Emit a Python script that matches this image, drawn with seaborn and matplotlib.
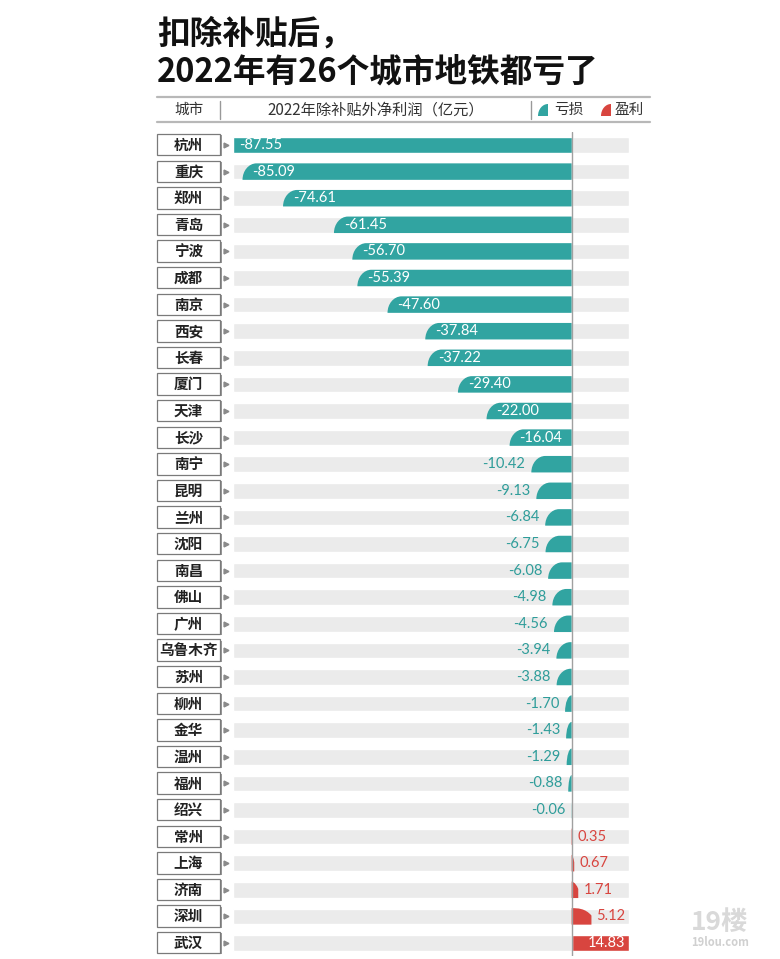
import numpy as np
import pandas as pd
import matplotlib
matplotlib.use("Agg")
import matplotlib.pyplot as plt
import seaborn as sns
from matplotlib.path import Path
from matplotlib.patches import PathPatch, Rectangle
from matplotlib.lines import Line2D
from matplotlib.transforms import blended_transform_factory

# Data

cities = [
    "杭州", "重庆", "郑州", "青岛", "宁波", "成都", "南京", "西安", "长春",
    "厦门", "天津", "长沙", "南宁", "昆明", "兰州", "沈阳", "南昌", "佛山",
    "广州", "乌鲁木齐", "苏州", "柳州", "金华", "温州", "福州", "绍兴",
    "常州", "上海", "济南", "深圳", "武汉",
]
profits = [
    -87.55, -85.09, -74.61, -61.45, -56.70, -55.39, -47.60, -37.84, -37.22,
    -29.40, -22.00, -16.04, -10.42, -9.13, -6.84, -6.75, -6.08, -4.98,
    -4.56, -3.94, -3.88, -1.70, -1.43, -1.29, -0.88, -0.06,
    0.35, 0.67, 1.71, 5.12, 14.83,
]
title_lines = ["扣除补贴后，", "2022年有26个城市地铁都亏了"]
header_city = "城市"
header_value = "2022年除补贴外净利润（亿元）"
legend_labels = ["亏损", "盈利"]

TEAL = "#31a4a1"
TEAL_TEXT = "#2f9d9a"
RED = "#d8453f"
BG = "#ebebeb"

sns.set_theme(style="white")
plt.rcParams["font.family"] = ["Noto Sans CJK SC", "DejaVu Sans"]
NUM_FONT = ["Lato", "DejaVu Sans"]

W, H = 780, 959
fig = plt.figure(figsize=(W / 100, H / 100), dpi=100)


def fx(px):
    return px / W


def fy(py):
    return 1 - py / H


n = len(cities)
row = (943 - 145) / (n - 1)
top = 145 - row / 2
bottom = 943 + row / 2
ax = fig.add_axes([fx(233), fy(bottom), fx(629) - fx(233), (bottom - top) / H])

df = pd.DataFrame({"city": cities, "profit": profits})
df["kind"] = np.where(df["profit"] < 0, legend_labels[0], legend_labels[1])
xmin, xmax = df["profit"].min(), df["profit"].max()

# Background bars

sns.barplot(x=[xmin] * n, y=cities, color=BG, width=0.58,
            saturation=1, orient="h", ax=ax)
sns.barplot(x=[xmax] * n, y=cities, color=BG, width=0.58,
            saturation=1, orient="h", ax=ax)

# Value bars

n_before = len(ax.patches)
sns.barplot(
    data=df, x="profit", y="city", hue="kind",
    palette={legend_labels[0]: TEAL, legend_labels[1]: RED},
    width=0.62, saturation=1, legend=False, orient="h", ax=ax
)
bars = list(ax.patches[n_before:])

px_per_x = (629 - 233) / (xmax - xmin)
rx_max = 14 / px_per_x
k = 0.5523

for p in bars:
    x0, x1 = sorted([p.get_x(), p.get_x() + p.get_width()])
    y0, y1 = sorted([p.get_y(), p.get_y() + p.get_height()])
    if x1 - x0 <= 0:
        continue
    color = p.get_facecolor()
    h = y1 - y0
    rx = min(rx_max, x1 - x0)
    if x0 <= xmin + 1e-9 or x1 >= xmax - 1e-9:
        continue
    if x0 < 0:
        verts = [(x1, y0), (x0 + rx, y0), (x0 + rx - k * rx, y0),
                 (x0, y1 - k * h), (x0, y1), (x1, y1), (x1, y0)]
    else:
        verts = [(x0, y1), (x0, y0), (x1 - rx, y0), (x1 - rx + k * rx, y0),
                 (x1, y1 - k * h), (x1, y1), (x0, y1)]
    codes = [Path.MOVETO, Path.LINETO, Path.CURVE4, Path.CURVE4,
             Path.CURVE4, Path.LINETO, Path.CLOSEPOLY]
    p.remove()
    ax.add_patch(PathPatch(Path(verts, codes), facecolor=color,
                           edgecolor="none", zorder=2))

# Value labels

for i, v in enumerate(profits):
    inside = abs(v) * px_per_x > 50
    square = v in (xmin, xmax)
    pad_in = 6 if square else 10
    if v < 0:
        off, ha = (pad_in, "left") if inside else (-6, "right")
        col = "white" if inside else TEAL_TEXT
    else:
        off, ha = (-4, "right") if inside else (5, "left")
        col = "white" if inside else RED
    ax.annotate(f"{v:.2f}", (v, i), xytext=(off, 0),
                textcoords="offset pixels", ha=ha, va="center",
                fontsize=10.5, color=col, family=NUM_FONT, zorder=4)

ax.axvline(0, color="#a0a0a0", lw=1, zorder=3)

ax.set_xlim(xmin, xmax)
ax.set_ylim(n - 0.5, -0.5)
ax.set_xticks([])
ax.set_yticks([])
ax.set_xlabel("")
ax.set_ylabel("")
sns.despine(ax=ax, left=True, bottom=True)

# City label boxes

trans = blended_transform_factory(fig.transFigure, ax.transData)
for i, city in enumerate(cities):
    fig.add_artist(Rectangle((fx(158.5), i - 0.37), fx(220) - fx(157), 0.8,
                             transform=trans, facecolor="#9a9a9a",
                             edgecolor="none", zorder=1))
    fig.add_artist(Rectangle((fx(157), i - 0.41), fx(220) - fx(157), 0.8,
                             transform=trans, facecolor="white",
                             edgecolor="#7a7a7a", lw=0.9, zorder=2))
    fig.text(fx(188.5), i, city, transform=trans, ha="center", va="center",
             fontsize=10.5, fontweight="bold", color="#222222", zorder=3)
    fig.add_artist(Line2D([fx(226)], [i], transform=trans, marker=">",
                          ms=3.5, color="#8a8a8a", ls="none"))

# Title

fig.text(fx(157), fy(34), title_lines[0], fontsize=23.5, fontweight="heavy",
         color="#111111", va="center", ha="left")
fig.text(fx(157), fy(72), title_lines[1], fontsize=23.5, fontweight="heavy",
         color="#111111", va="center", ha="left")

# Header

for yy in (97, 122):
    fig.add_artist(Line2D([fx(157), fx(650)], [fy(yy), fy(yy)],
                          color="#b8b8b8", lw=1.6))
for xx in (220, 531):
    fig.add_artist(Line2D([fx(xx), fx(xx)], [fy(101), fy(119)],
                          color="#999999", lw=1))
fig.text(fx(189), fy(110), header_city, ha="center", va="center",
         fontsize=10.5, color="#333333")
fig.text(fx(376), fy(110), header_value, ha="center", va="center",
         fontsize=11, color="#333333")

for x_icon, col, label, x_lab in ((538, TEAL, legend_labels[0], 569),
                                   (601, RED, legend_labels[1], 629)):
    x0, x1, y0, y1 = fx(x_icon), fx(x_icon + 10), fy(116), fy(104)
    rx, ry = x1 - x0, y1 - y0
    verts = [(x1, y0), (x1, y1), (x0 + rx * (1 - k), y1),
             (x0, y0 + ry * k), (x0, y0), (x1, y0)]
    codes = [Path.MOVETO, Path.LINETO, Path.CURVE4, Path.CURVE4,
             Path.CURVE4, Path.CLOSEPOLY]
    fig.add_artist(PathPatch(Path(verts, codes), facecolor=col,
                             edgecolor="none", transform=fig.transFigure))
    fig.text(fx(x_lab), fy(110), label, ha="center", va="center",
             fontsize=10.5, color="#333333")

# Watermark

fig.text(fx(720), fy(922), "19楼", ha="center", va="center", fontsize=19,
         fontweight="bold", color="#d9d9d9")
fig.text(fx(720), fy(943), "19lou.com", ha="center", va="center",
         fontsize=8, fontweight="bold", color="#d0d0d0")

plt.savefig("out.png", dpi=100)
